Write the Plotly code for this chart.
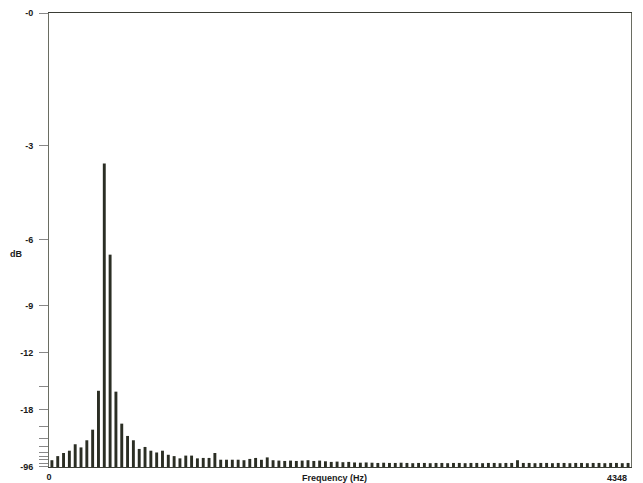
import plotly.graph_objects as go

# ---- data ----
span_hz = 4348
n_bins = 100
bin_hz = span_hz / n_bins
freqs = [(i + 0.5) * bin_hz for i in range(n_bins)]

level_db = [
    -36.5, -32.4, -30.2, -28.9, -26.0, -27.3, -24.6, -21.7, -15.5, -3.5,
    -6.6, -15.6, -20.4, -23.3, -24.6, -28.0, -27.1, -28.9, -29.9, -28.9,
    -31.4, -32.4, -34.4, -32.0, -32.0, -34.4, -34.0, -34.0, -30.2, -35.9,
    -35.9, -35.9, -35.9, -36.5, -35.0, -34.0, -36.0, -33.5, -36.5, -37.0,
    -37.5, -37.0, -37.5, -37.0, -36.5, -37.5, -37.0, -38.0, -39.0, -38.5,
    -39.5, -39.0, -40.0, -40.5, -40.0, -40.5, -41.0, -40.5, -41.0, -41.0,
    -40.5, -41.0, -41.5, -41.0, -41.0, -41.5, -41.0, -41.0, -41.5, -41.0,
    -41.0, -41.5, -41.0, -41.0, -41.5, -41.0, -41.0, -41.5, -41.0, -41.0,
    -36.5, -41.0, -41.0, -41.5, -41.0, -41.0, -41.5, -41.0, -41.0, -41.5,
    -41.0, -41.0, -41.5, -41.0, -41.0, -41.5, -41.0, -41.0, -41.5, -41.0,
]

major_db = [0, -3, -6, -9, -12, -18, -96]
major_labels = ["-0", "-3", "-6", "-9", "-12", "-18", "-96"]
minor_db = [-15, -21, -24, -27, -30, -33, -36, -42]

x_start_label = "0"
x_end_label = "4348"

# linear amplitude scale, labelled in dB
amp = [10 ** (d / 20) for d in level_db]
tick_vals = [10 ** (d / 20) for d in major_db] + [10 ** (d / 20) for d in minor_db]
tick_text = major_labels + [""] * len(minor_db)

bar_color = "#2b2e24"
font_fam = "Liberation Sans, Arial, sans-serif"
lab_font = dict(family=font_fam, size=9, color="#1a1a1a", weight="bold")

fig = go.Figure()
fig.add_trace(go.Bar(
    x=freqs, y=amp,
    marker=dict(color=bar_color, line=dict(width=0)),
    width=bin_hz * 0.5,
    hoverinfo="skip",
))

# the page body has an 8px margin, so the figure is sized/offset for it
fig.update_layout(
    width=635, height=475,
    margin=dict(l=41, r=12, t=5, b=16, autoexpand=False),
    paper_bgcolor="white", plot_bgcolor="white",
    showlegend=False,
    font=dict(family=font_fam, size=9, color="#1a1a1a"),
)

fig.update_xaxes(
    range=[0, span_hz], automargin=False,
    tickvals=[0], ticktext=[x_start_label],
    ticks="", showgrid=False, zeroline=False,
    showline=True, linecolor="#3a3d35", linewidth=1, mirror=True,
    tickfont=lab_font, ticklabelstandoff=1, ticklabeloverflow="allow",
)

fig.update_yaxes(
    range=[0, 1], automargin=False,
    tickvals=tick_vals, ticktext=tick_text,
    ticks="outside", ticklen=9, tickcolor="#888888", tickwidth=1,
    showgrid=False, zeroline=False,
    showline=True, linecolor="#6a6d62", linewidth=1, mirror=True,
    tickfont=lab_font, ticklabelstandoff=4, ticklabeloverflow="allow",
)

fig.add_annotation(
    text=x_end_label, xref="paper", yref="paper",
    x=1, xanchor="right", xshift=-2, y=0, yanchor="top", yshift=-4,
    showarrow=False, font=lab_font,
)
fig.add_annotation(
    text="Frequency (Hz)", xref="paper", yref="paper",
    x=0.49, y=0, yanchor="top", yshift=-4, showarrow=False,
    font=lab_font,
)
fig.add_annotation(
    text="dB", xref="paper", yref="paper",
    x=0, xshift=-41, y=0.47, showarrow=False,
    font=lab_font,
)

fig.write_html(
    "out.html",
    post_script="document.documentElement.style.overflow='hidden';"
                "document.body.style.overflow='hidden';",
)
